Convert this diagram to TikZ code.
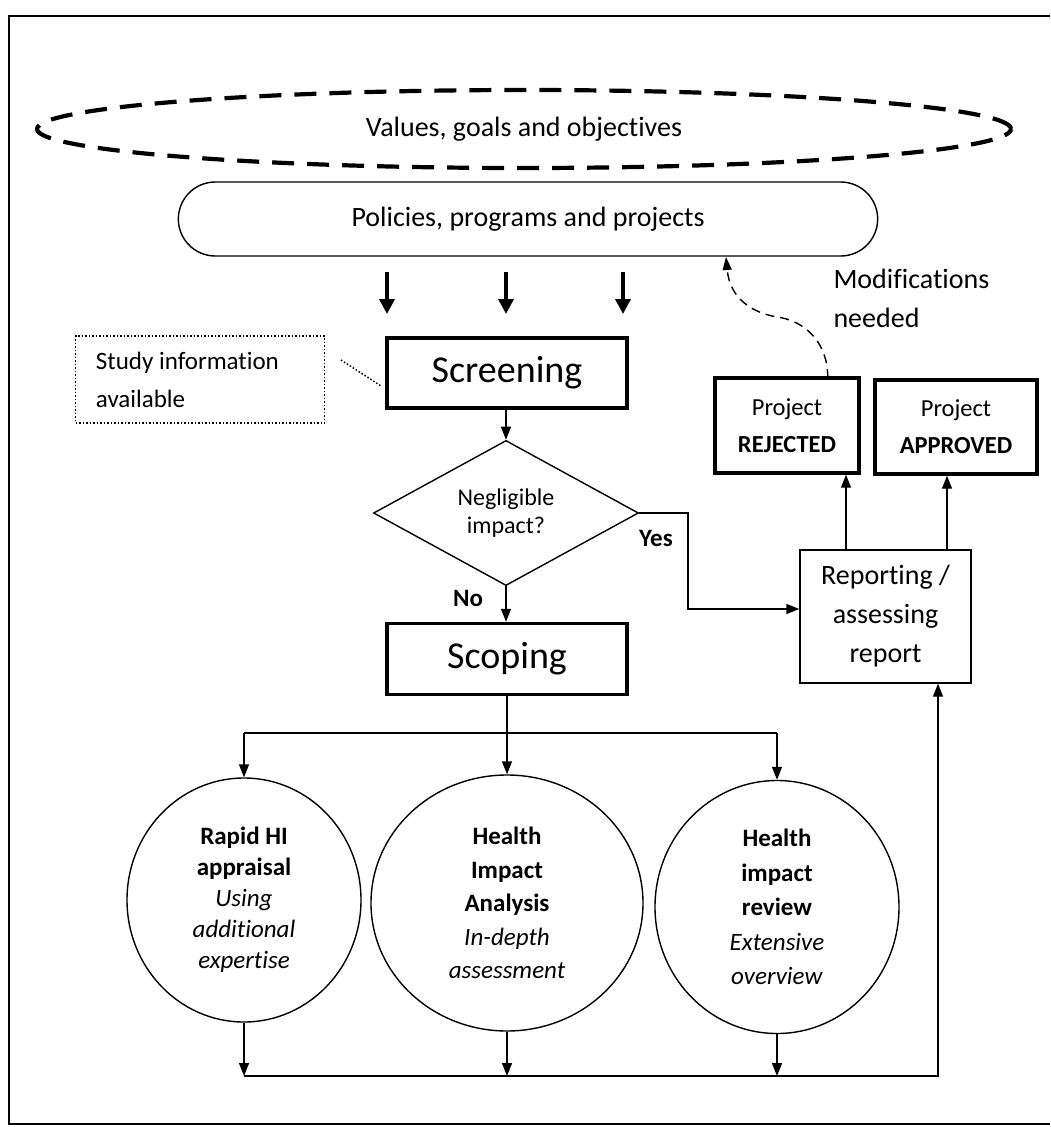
\documentclass[tikz,border=0pt]{standalone}
\usepackage{fontspec}
\setmainfont[Ligatures=NoCommon]{Carlito}
\usetikzlibrary{shapes.geometric,shapes.misc,arrows.meta}
\begin{document}
\begin{tikzpicture}[x=1pt,y=-1pt,
  thinln/.style={line width=1.4pt},
  arr/.style={thinln,-{Triangle[length=13pt,width=10pt]}},
  bigarr/.style={line width=3.6pt,-{Triangle[length=15pt,width=15pt]}},
  thickbox/.style={draw,line width=3.4pt,rectangle,inner sep=0pt,align=center},
  thinbox/.style={draw,line width=1.4pt,rectangle,inner sep=0pt,align=center},
  txt/.style={font={\fontsize{28}{39}\selectfont}},
  bigtxt/.style={font={\fontsize{38}{44}\selectfont}},
  circ/.style={draw,ellipse,line width=1.4pt,inner sep=0pt,align=center},
  lbl/.style={font={\fontsize{25}{30}\selectfont\bfseries}}
]
\useasboundingbox (0,0) rectangle (1050,1127);
\fill[white] (0,0) rectangle (1050,1127);
% frame (right side lies outside the picture)
\draw[line width=2pt] (1050,16) -- (9,16) -- (9,1124) -- (1050,1124);

% top ellipses
\node[draw,ellipse,line width=4.2pt,dash pattern=on 22pt off 13pt,minimum width=974,minimum height=78,txt] (vals) at (524,129) {Values, goals and objectives};
\node[draw,rounded rectangle,thinln,minimum width=706,minimum height=74,txt] (pol) at (528,219) {Policies, programs and projects};

% three big arrows
\coordinate (t1) at (387,272); \coordinate (u1) at (387,314);
\coordinate (t2) at (506,272); \coordinate (u2) at (506,314);
\coordinate (t3) at (623,272); \coordinate (u3) at (623,314);
\draw[bigarr] (t1) -- (u1);
\draw[bigarr] (t2) -- (u2);
\draw[bigarr] (t3) -- (u3);

% screening
\node[thickbox,minimum width=240,minimum height=70,bigtxt] (scr) at (507,373) {Screening};
\node[draw,dotted,line width=1.5pt,rectangle,minimum width=249,minimum height=87,inner sep=0pt] (study) at (200,379.5) {};
\node[anchor=west,align=left,inner sep=0pt,font={\fontsize{25}{38}\selectfont}] (studytxt) at ([xshift=21pt]study.west) {Study information\\available};
\coordinate (d1) at (341,360);
\coordinate (d2) at (381,386);
\draw[dotted,line width=1.5pt] (d1) -- (d2);

% decision
\node[draw,diamond,thinln,minimum width=265,minimum height=136,inner sep=0pt,align=center,font={\fontsize{24}{28}\selectfont}] (dia) at (506,513) {Negligible\\impact?};
\draw[arr] (scr.south -| dia.north) -- (dia.north);
\node[lbl] (yes) at (656,538) {Yes};
\node[lbl] (no) at (468,598) {No};

% scoping
\node[thickbox,minimum width=240,minimum height=71,bigtxt] (scop) at (507,659) {Scoping};
\draw[arr] (dia.south) -- (scop.north -| dia.south);

% reporting
\node[thinbox,minimum width=171,minimum height=133,txt] (rep) at (885.5,616.5) {Reporting /\\assessing\\report};
\coordinate (y1) at (688,513);
\coordinate (y2) at (688,609);
\draw[arr] (dia.east) -- (y1) -- (y2) -- (y2 -| rep.west);

% decisions
\node[thickbox,minimum width=144,minimum height=95,font={\fontsize{24.5}{37}\selectfont}] (rej) at (787,425.5) {Project\\\textbf{REJECTED}};
\node[thickbox,minimum width=162,minimum height=94,font={\fontsize{24.5}{37}\selectfont}] (app) at (956,427) {Project\\\textbf{APPROVED}};
\coordinate (r1) at (846,550);
\coordinate (r2) at (947,550);
\draw[arr] (r1) -- (r1 |- rej.south);
\draw[arr] (r2) -- (r2 |- app.south);

% modifications
\coordinate (m1) at (828,378);
\coordinate (m2) at (726,257);
\draw[thinln,dash pattern=on 9pt off 6pt,-{Triangle[length=13pt,width=9pt]}] (m1) -- (827,366) .. controls (822,336) and (800,320) .. (777,317) .. controls (754,313) and (730,300) .. (m2);
\node[txt,anchor=west,align=left] (mod) at (830,298) {Modifications\\needed};

% branches
\node[circ,minimum width=234,minimum height=244,font={\fontsize{25}{31}\selectfont}] (c1) at (244,900) {\textbf{Rapid HI}\\\textbf{appraisal}\\\textit{Using}\\\textit{additional}\\\textit{expertise}};
\node[circ,minimum width=272,minimum height=256,font={\fontsize{25}{33.5}\selectfont}] (c2) at (507,903) {\textbf{Health}\\\textbf{Impact}\\\textbf{Analysis}\\\textit{In-depth}\\\textit{assessment}};
\node[circ,minimum width=244,minimum height=253,font={\fontsize{25}{34.5}\selectfont}] (c3) at (777,907) {\textbf{Health}\\\textbf{impact}\\\textbf{review}\\\textit{Extensive}\\\textit{overview}};

\coordinate (h1) at (244,733);
\coordinate (h3) at (777,733);
\draw[arr] (scop.south) -- (c2.north);
\draw[thinln] (h1) -- (h3);
\draw[arr] (h1) -- (c1.north);
\draw[arr] (h3) -- (c3.north);

\coordinate (b1) at (244,1076);
\coordinate (b4) at (938,1076);
\draw[arr] (c1.south) -- (c1.south |- b1);
\draw[arr] (c2.south) -- (c2.south |- b1);
\draw[arr] (c3.south) -- (c3.south |- b1);
\draw[arr] (b1) -- (b4) -- (b4 |- rep.south);
\end{tikzpicture}
\end{document}
